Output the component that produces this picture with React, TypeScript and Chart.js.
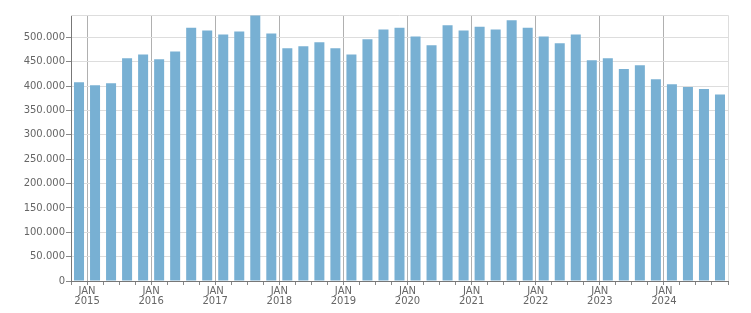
import React, { useEffect, useRef } from "react";
import { Chart, registerables } from "chart.js";

Chart.register(...registerables);

// Quarters from Q4 2014 to Q4 2024
const quarters: string[] = [
  "Q4 2014",
  "Q1 2015", "Q2 2015", "Q3 2015", "Q4 2015",
  "Q1 2016", "Q2 2016", "Q3 2016", "Q4 2016",
  "Q1 2017", "Q2 2017", "Q3 2017", "Q4 2017",
  "Q1 2018", "Q2 2018", "Q3 2018", "Q4 2018",
  "Q1 2019", "Q2 2019", "Q3 2019", "Q4 2019",
  "Q1 2020", "Q2 2020", "Q3 2020", "Q4 2020",
  "Q1 2021", "Q2 2021", "Q3 2021", "Q4 2021",
  "Q1 2022", "Q2 2022", "Q3 2022", "Q4 2022",
  "Q1 2023", "Q2 2023", "Q3 2023", "Q4 2023",
  "Q1 2024", "Q2 2024", "Q3 2024", "Q4 2024",
];

const values: number[] = [
  408000, 402000, 406000, 457000, 465000, 455000, 471000, 520000, 514000, 506000,
  512000, 545000, 508000, 478000, 482000, 490000, 478000, 465000, 496000, 516000,
  520000, 502000, 484000, 525000, 514000, 522000, 516000, 535000, 520000, 502000,
  488000, 506000, 453000, 457000, 435000, 443000, 414000, 404000, 398000, 394000,
  383000,
];

const yearLabels: string[] = ["2015", "2016", "2017", "2018", "2019", "2020", "2021", "2022", "2023", "2024"];
const monthLabel = "JAN";

const yTicks: number[] = [0, 50000, 100000, 150000, 200000, 250000, 300000, 350000, 400000, 450000, 500000];
const Y_MAX = 546000;

const fmt = (v: number) => String(Math.round(v)).replace(/\B(?=(\d{3})+(?!\d))/g, ".");

const isYearTick = (v: number) => v >= 1 && v < quarters.length && (v - 1) % 4 === 0;

const boxPlugin = {
  id: "boxPlugin",
  beforeDatasetsDraw(chart: any) {
    const { ctx, chartArea } = chart;
    ctx.save();
    ctx.strokeStyle = "#dddddd";
    ctx.lineWidth = 1;
    ctx.beginPath();
    ctx.moveTo(chartArea.left, chartArea.top + 0.5);
    ctx.lineTo(chartArea.right + 0.5, chartArea.top + 0.5);
    ctx.lineTo(chartArea.right + 0.5, chartArea.bottom);
    ctx.stroke();
    ctx.restore();
  },
};

export default function App() {
  const ref = useRef<HTMLCanvasElement>(null);

  useEffect(() => {
    if (!ref.current) return;
    const font = { family: "'DejaVu Sans', sans-serif", size: 10 };
    const chart = new Chart(ref.current, {
      type: "bar",
      data: {
        datasets: [
          {
            label: "Value",
            data: values.map((v, i) => ({ x: i + 0.5, y: v })),
            backgroundColor: "#78b0d3",
            borderWidth: 0,
            categoryPercentage: 1,
            barPercentage: 0.625,
          },
        ],
      },
      options: {
        responsive: false,
        animation: false,
        layout: { padding: { top: 5, right: 15, left: 0, bottom: 0 } },
        plugins: {
          legend: { display: false },
          tooltip: { enabled: false },
        },
        scales: {
          x: {
            type: "linear",
            min: 0,
            max: quarters.length,
            offset: false,
            border: { color: "#777777", width: 1 },
            grid: {
              offset: false,
              color: (c: any) => (c.tick && isYearTick(c.tick.value) ? "#b0b0b0" : "rgba(0,0,0,0)"),
              tickColor: "#888888",
              tickLength: 4,
              lineWidth: 1,
            },
            ticks: {
              stepSize: 1,
              autoSkip: false,
              maxRotation: 0,
              minRotation: 0,
              padding: 1,
              color: "#666666",
              font: { ...font, lineHeight: 1.0 },
              callback: (v: any) => {
                const n = Number(v);
                if (isYearTick(n)) return [monthLabel, yearLabels[(n - 1) / 4]];
                return "";
              },
            },
            afterFit: (s: any) => {
              s.height = 24;
            },
          },
          y: {
            min: 0,
            max: Y_MAX,
            border: { color: "#777777", width: 1 },
            grid: {
              color: "#dddddd",
              tickColor: "#888888",
              tickLength: 5,
              lineWidth: 1,
            },
            ticks: {
              padding: 1,
              color: "#666666",
              font,
              callback: (v: any) => fmt(Number(v)),
            },
            afterBuildTicks: (s: any) => {
              s.ticks = yTicks.map((value) => ({ value }));
            },
            afterFit: (s: any) => {
              s.width = 63;
            },
          },
        },
      },
      plugins: [boxPlugin],
    } as any);
    return () => chart.destroy();
  }, []);

  return (
    <div style={{ width: 735, height: 297 }}>
      <canvas ref={ref} width={735} height={297} style={{ display: "block" }} />
    </div>
  );
}
